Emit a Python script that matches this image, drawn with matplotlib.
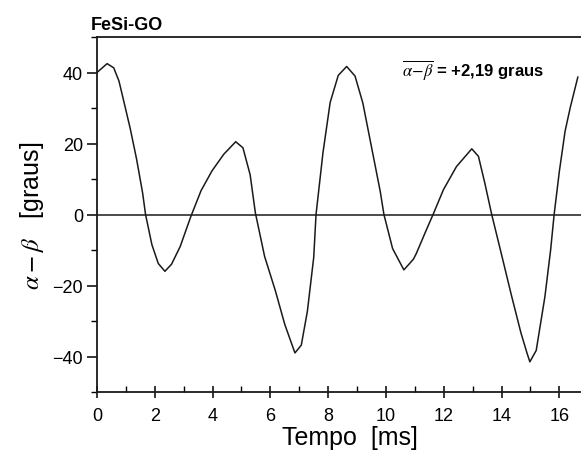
#!/usr/bin/env python3

import matplotlib
matplotlib.use('Agg')
import matplotlib.pyplot as plt
from matplotlib.ticker import MultipleLocator

plt.rcParams['font.family'] = ['Liberation Sans', 'DejaVu Sans']
plt.rcParams['mathtext.fontset'] = 'stix'

# tempo [ms] and alpha - beta [graus]
tempo = [0.00, 0.35, 0.58, 0.76, 0.93, 1.15, 1.37, 1.58, 1.68, 1.90,
         2.12, 2.35, 2.58, 2.88, 3.25, 3.60, 3.98, 4.39, 4.80, 5.05,
         5.30, 5.48, 5.80, 6.17, 6.50, 6.85, 7.07, 7.28, 7.50, 7.58,
         7.82, 8.07, 8.35, 8.64, 8.93, 9.20, 9.50, 9.80, 9.93, 10.23,
         10.62, 10.95, 11.05, 11.40, 11.63, 11.99, 12.44, 12.97, 13.20, 13.42,
         13.66, 14.00, 14.34, 14.67, 14.88, 14.98, 15.20, 15.50, 15.70, 15.82,
         16.00, 16.20, 16.38, 16.64]
diff = [40.0, 42.5, 41.3, 37.6, 31.8, 24.2, 15.6, 6.0, 0.0, -8.5,
        -13.8, -16.0, -14.0, -9.0, -0.5, 6.7, 12.3, 17.0, 20.5, 18.8,
        11.2, 0.5, -11.8, -21.4, -31.0, -39.0, -36.8, -27.3, -12.1, 0.0,
        17.4, 31.6, 39.2, 41.7, 39.0, 31.4, 19.0, 6.6, 0.0, -9.6,
        -15.6, -12.6, -11.0, -4.3, 0.0, 7.0, 13.5, 18.5, 16.4, 8.9,
        0.0, -11.3, -22.7, -33.3, -39.0, -41.5, -38.3, -23.2, -9.9, 0.0,
        12.1, 23.5, 30.2, 38.7]

x_ticks = [0, 2, 4, 6, 8, 10, 12, 14, 16]
y_ticks = [-40, -20, 0, 20, 40]

fig = plt.figure(figsize=(5.81, 4.56), dpi=100)
ax = fig.add_axes([97/581, 63/456, 484/581, 355/456])

ax.plot(tempo, diff, color='#1a1a1a', lw=1.1)
ax.axhline(0, color='#1a1a1a', lw=1.1)

ax.set_xlim(0, 16.75)
ax.set_ylim(-50, 50)
ax.set_xticks(x_ticks)
ax.set_yticks(y_ticks)
ax.xaxis.set_minor_locator(MultipleLocator(1))
ax.yaxis.set_minor_locator(MultipleLocator(10))
ax.tick_params(axis='x', which='major', direction='inout', length=9, width=1.1, labelsize=13, pad=6)
ax.tick_params(axis='x', which='minor', direction='in', length=4, width=1.0)
ax.tick_params(axis='y', which='major', direction='out', length=7, width=1.1, labelsize=13, pad=3)
ax.tick_params(axis='y', which='minor', direction='out', length=4, width=1.0)
ax.spines['right'].set_visible(False)
for s in ['left', 'bottom', 'top']:
  ax.spines[s].set_linewidth(1.3)
  ax.spines[s].set_color('#1a1a1a')

ax.set_xlabel('Tempo  [ms]', fontsize=18)
ax.xaxis.set_label_coords(0.523, -0.094)
ax.set_ylabel(r'$\alpha - \beta$   [graus]', fontsize=18)
ax.yaxis.set_label_coords(-0.105, 0.5)

ax.text(-0.012, 1.012, 'FeSi-GO', transform=ax.transAxes, fontsize=13,
        fontweight='bold', ha='left', va='bottom')
ax.text(13.0, 41, r'$\overline{\alpha\!-\!\beta}$ = +2,19 graus', fontsize=12,
        fontweight='bold', ha='center', va='center')

fig.savefig('out.png', dpi=100)
